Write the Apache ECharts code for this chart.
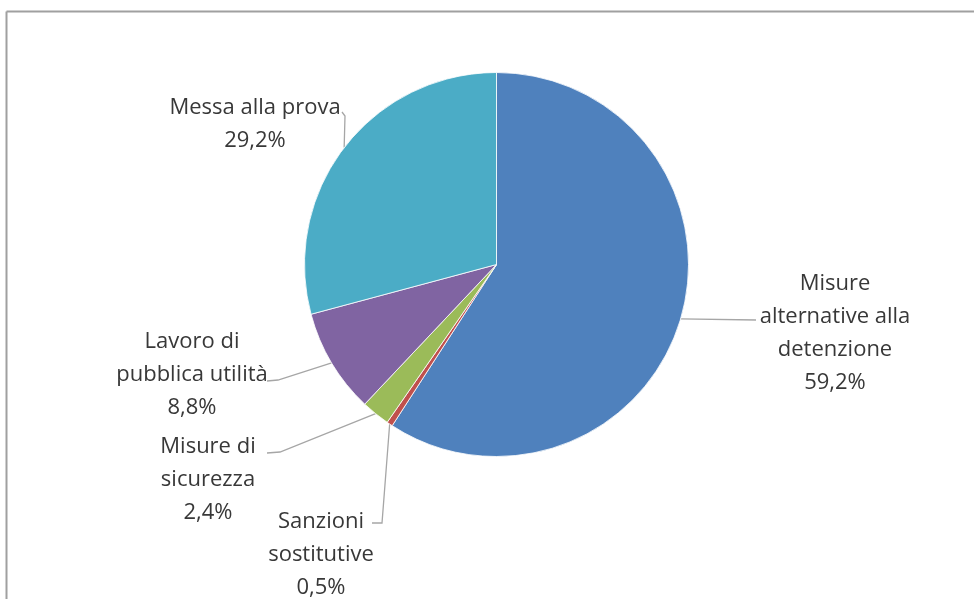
<!DOCTYPE html>
<html>
<head>
<meta charset="utf-8">
<script src="https://cdn.jsdelivr.net/npm/echarts@6/dist/echarts.min.js"></script>
<style>
html,body{margin:0;padding:0;background:#fff;}
#chart{width:974px;height:599px;}
</style>
</head>
<body>
<div id="chart"></div>
<script>
// Data
var categories = [
  'Misure\nalternative alla\ndetenzione',
  'Sanzioni\nsostitutive',
  'Misure di\nsicurezza',
  'Lavoro di\npubblica utilità',
  'Messa alla prova'
];
var values = [59.2, 0.5, 2.4, 8.8, 29.2];
var colors = ['#4F81BD', '#C0504D', '#9BBB59', '#8064A2', '#4BACC6'];

// Label placement (styles/positions only)
var labelPos = [
  { x: 835, y: 333, line: [[756, 320]] },
  { x: 321, y: 555, line: [[382, 523], [372, 523]] },
  { x: 208, y: 480, line: [[280, 452], [267, 453]] },
  { x: 192, y: 375, line: [[278, 380], [267, 381]] },
  { x: 255, y: 124, line: [[345, 116], [342, 112]] }
];

var chart = echarts.init(document.getElementById('chart'));
var data = categories.map(function (c, i) {
  return { name: c, value: values[i], itemStyle: { color: colors[i] } };
});

chart.setOption({
  animation: false,
  graphic: [
    { type: 'line', shape: { x1: 6.5, y1: 11.5, x2: 974, y2: 11.5 }, style: { stroke: '#a0a0a0', lineWidth: 2 } },
    { type: 'line', shape: { x1: 6.5, y1: 11.5, x2: 6.5, y2: 599 }, style: { stroke: '#a0a0a0', lineWidth: 2 } }
  ],
  series: [{
    type: 'pie',
    center: [496.5, 264.5],
    radius: [0, 192],
    startAngle: 90,
    clockwise: true,
    data: data,
    itemStyle: { borderColor: '#ffffff', borderWidth: 0.8 },
    label: {
      show: true,
      color: '#383838',
      fontFamily: 'Open Sans',
      fontSize: 22,
      lineHeight: 33,
      align: 'center',
      formatter: function (p) {
        return p.name + '\n' + String(p.value).replace('.', ',') + '%';
      }
    },
    labelLine: {
      show: true,
      lineStyle: { color: '#a6a6a6', width: 1.3 }
    },
    labelLayout: function (params) {
      var lp = labelPos[params.dataIndex];
      var start = params.labelLinePoints ? params.labelLinePoints[0] : null;
      var res = { x: lp.x, y: lp.y, align: 'center', verticalAlign: 'middle' };
      if (start) {
        res.labelLinePoints = [start].concat(lp.line);
      }
      return res;
    }
  }]
});
</script>
</body>
</html>
